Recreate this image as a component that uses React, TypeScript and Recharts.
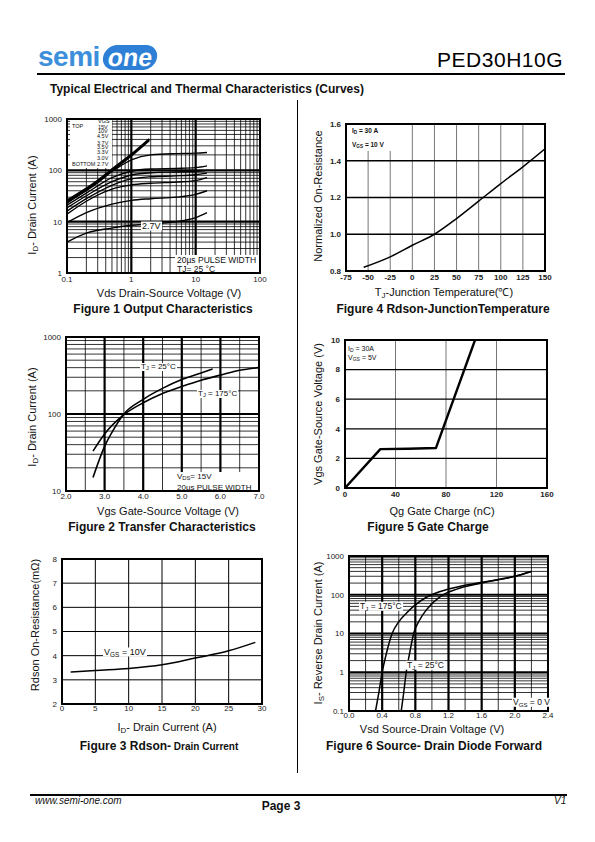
import React from 'react'
import { LineChart, Line, XAxis, YAxis, ReferenceLine } from 'recharts'

const FONT = '"Liberation Sans", Arial, Helvetica, sans-serif'

// Figure 1 - output characteristics, Vds (V) vs Id (A)
const outVds = [0.1, 0.2, 0.5, 1, 2, 5, 10, 15]
const outVdsTop = [0.1, 0.3, 0.5, 1, 1.9]
const outId15V = [26, 63, 105, 205, 410]
const outId10V = [24, 58, 98, 192, 385]
const outId45V = [23, 42, 95, 160, 200, 212, 216, 222]
const outId37V = [21, 36, 72, 96, 106, 109, 113, 122]
const outId35V = [18.5, 32, 60, 81, 90, 93, 95, 100]
const outId33V = [16, 28, 51, 68, 75, 78, 82, 88]
const outId30V = [14, 25, 43, 52, 56, 59, 63, 72]
const outId29V = [9.6, 15, 22, 26, 28, 30, 34, 40]
const outId27V = [4, 6, 7.5, 8.5, 9, 10, 12, 15]

// Figure 2 - transfer characteristics, Vgs (V) vs Id (A)
const trVgs25 = [2.7, 3.0, 3.25, 3.5, 4.0, 4.5, 5.0, 5.5, 5.8]
const trId25 = [15, 38, 65, 100, 155, 215, 280, 340, 385]
const trVgs175 = [2.7, 3.0, 3.5, 4.0, 4.5, 5.0, 5.5, 6.0, 6.5, 7.0]
const trId175 = [33, 55, 98, 140, 185, 228, 275, 320, 370, 400]

// Figure 3 - Rdson vs drain current
const rdsId = [1.3, 5, 10, 15, 20, 25, 29]
const rdsMohm = [3.32, 3.39, 3.47, 3.62, 3.9, 4.2, 4.55]

// Figure 4 - normalized Rdson vs junction temperature
const tjTemp = [-55, -25, 0, 25, 50, 75, 100, 125, 150]
const tjRds = [0.82, 0.877, 0.94, 1.0, 1.085, 1.18, 1.276, 1.367, 1.465]

// Figure 5 - gate charge
const gcQg = [0, 28, 50, 72, 103]
const gcVgs = [0, 2.63, 2.65, 2.7, 10]

// Figure 6 - body diode forward
const sdV175 = [0.32, 0.36, 0.4, 0.45, 0.52, 0.6, 0.7, 0.8, 0.95, 1.2, 1.6, 2.0, 2.2]
const sdI175 = [0.1, 0.3, 1, 3, 10, 20, 35, 55, 90, 140, 210, 300, 400]
const sdV25 = [0.63, 0.66, 0.69, 0.73, 0.78, 0.85, 0.95, 1.1, 1.3, 1.6, 2.0, 2.2]
const sdI25 = [0.1, 0.3, 1, 3, 10, 22, 45, 90, 140, 200, 300, 400]

type Pt = { x: number; y: number }
type Grid = { v: number; w: number; c?: string }

const zip = (xs: number[], ys: number[]): Pt[] => xs.map((x, i) => ({ x, y: ys[i] }))

const logMinor = (from: number, to: number) => {
  const out: number[] = []
  for (let d = from; d < to * 0.99; d *= 10)
    for (let k = 2; k <= 9; k++) out.push(+(d * k).toPrecision(3))
  return out
}
const g = (vals: number[], w: number, c = '#000'): Grid[] => vals.map(v => ({ v, w, c }))

function Plot(p: {
  left: number; top: number; w: number; h: number
  xDomain: [number, number]; yDomain: [number, number]
  xLog?: boolean; yLog?: boolean
  xTicks: number[]; yTicks: number[]
  xFmt?: (v: number) => string; yFmt?: (v: number) => string
  vGrid: Grid[]; hGrid: Grid[]
  lines: { pts: Pt[]; w: number; linear?: boolean }[]
  bold?: boolean
  xGap?: number
}) {
  const yw = 40, xh = 18, mt = 6, mr = 14, bw = 2
  const tick = { fontSize: 8, fill: '#222', fontFamily: FONT, fontWeight: p.bold ? 700 : 400 }
  return (
    <div style={{ position: 'absolute', left: p.left - yw, top: p.top - mt }}>
      <LineChart width={yw + p.w + mr} height={mt + p.h + xh} margin={{ top: mt, right: mr, left: 0, bottom: 0 }} style={{ overflow: 'visible' }}>
        <XAxis dataKey="x" type="number" scale={p.xLog ? 'log' : 'linear'} domain={p.xDomain} ticks={p.xTicks}
          allowDataOverflow interval={0} tickFormatter={p.xFmt} tick={tick} tickLine={false} axisLine={false}
          tickSize={p.xGap ?? 1} tickMargin={1} height={xh} />
        <YAxis dataKey="y" type="number" scale={p.yLog ? 'log' : 'linear'} domain={p.yDomain} ticks={p.yTicks}
          allowDataOverflow interval={0} tickFormatter={p.yFmt} tick={tick} tickLine={false} axisLine={false}
          tickSize={3} tickMargin={2} width={yw} />
        {p.vGrid.map(l => <ReferenceLine key={'v' + l.v} x={l.v} stroke={l.c} strokeWidth={l.w} />)}
        {p.hGrid.map(l => <ReferenceLine key={'h' + l.v} y={l.v} stroke={l.c} strokeWidth={l.w} />)}
        {p.lines.map((l, i) => (
          <Line key={i} data={l.pts} dataKey="y" type={l.linear ? 'linear' : 'monotone'} stroke="#000" strokeWidth={l.w}
            dot={false} isAnimationActive={false} strokeLinejoin="round" />
        ))}
      </LineChart>
      <div style={{ position: 'absolute', left: yw - bw / 2, top: mt - bw / 2, width: p.w + bw, height: p.h + bw,
        border: `${bw}px solid #000`, boxSizing: 'border-box' }} />
    </div>
  )
}

function Txt({ x, y, size = 8, bold, italic, center, bg, children, style }: any) {
  return (
    <div style={{ position: 'absolute', left: x, top: y, fontSize: size, lineHeight: 1, fontFamily: FONT,
      fontWeight: bold ? 700 : 400, fontStyle: italic ? 'italic' : 'normal', whiteSpace: 'nowrap', color: '#111',
      transform: `translate(${center ? '-50%' : '0'}, -50%)`, background: bg ? '#fff' : undefined,
      padding: bg ? '0 1px' : 0, ...style }}>
      {children}
    </div>
  )
}

function VTxt({ x, y, size = 11, children }: any) {
  return (
    <div style={{ position: 'absolute', left: x, top: y, fontSize: size, lineHeight: 1, fontFamily: FONT,
      whiteSpace: 'nowrap', color: '#111', transform: 'translate(-50%, -50%) rotate(-90deg)' }}>
      {children}
    </div>
  )
}

const Sub = ({ children }: any) => (
  <span style={{ fontSize: '0.72em', position: 'relative', top: '0.25em' }}>{children}</span>
)

const fx1 = (v: number) => v.toFixed(1)
const fstr = (v: number) => String(v)

export default function App() {
  return (
    <div style={{ position: 'absolute', left: 0, top: 0, width: 595, height: 842, background: '#fff', fontFamily: FONT }}>
      {/* header */}
      <div style={{ position: 'absolute', left: 38, top: 44, display: 'flex', alignItems: 'center' }}>
        <span style={{ fontWeight: 700, fontSize: 28, color: '#3d8fdc', lineHeight: '26px', letterSpacing: -0.5 }}>semi</span>
        <span style={{ marginLeft: 3, background: '#2d80d6', color: '#fff', borderRadius: 13, padding: '0 5px',
          fontWeight: 700, fontSize: 25, lineHeight: '25px', transform: 'skewX(-8deg)' }}>one</span>
      </div>
      <Txt x={563} y={59} size={21} style={{ transform: 'translate(-100%, -50%)', letterSpacing: 0.5, color: '#000' }}>PED30H10G</Txt>
      <div style={{ position: 'absolute', left: 37, top: 73, width: 528, height: 2, background: '#000' }} />
      <Txt x={50} y={89} size={12} bold>Typical Electrical and Thermal Characteristics (Curves)</Txt>
      <div style={{ position: 'absolute', left: 297, top: 100, width: 1, height: 673, background: '#000' }} />

      {/* Figure 1 */}
      <Plot left={67} top={119} w={193} h={154} xLog yLog xDomain={[0.1, 100]} yDomain={[1, 1000]}
        xTicks={[0.1, 1, 10, 100]} yTicks={[1, 10, 100, 1000]} xFmt={fstr} yFmt={fstr} xGap={2}
        vGrid={[...g(logMinor(0.1, 100), 0.8), ...g([1, 10], 2.2)]}
        hGrid={[...g(logMinor(1, 1000), 0.8), ...g([10, 100], 2.2)]}
        lines={[
          { pts: zip(outVdsTop, outId15V), w: 2 },
          { pts: zip(outVdsTop, outId10V), w: 2 },
          { pts: zip(outVds, outId45V), w: 1.4 },
          { pts: zip(outVds, outId37V), w: 1.4 },
          { pts: zip(outVds, outId35V), w: 1.4 },
          { pts: zip(outVds, outId33V), w: 1.4 },
          { pts: zip(outVds, outId30V), w: 1.4 },
          { pts: zip(outVds, outId29V), w: 1.4 },
          { pts: zip(outVds, outId27V), w: 1.4 },
        ]} />
      <div style={{ position: 'absolute', left: 70, top: 120, width: 42, height: 48, background: '#fff' }} />
      <Txt x={98} y={122} size={5.5}>VGS</Txt>
      <Txt x={72} y={127} size={5.5}>TOP</Txt>
      <Txt x={98} y={127.5} size={5.5}>15V</Txt>
      <Txt x={98} y={132} size={5.5}>10V</Txt>
      <Txt x={97} y={136.5} size={5.5}>4.5V</Txt>
      <Txt x={97} y={143.5} size={5.5}>3.7V</Txt>
      <Txt x={97} y={148} size={5.5}>3.5V</Txt>
      <Txt x={97} y={152.5} size={5.5}>3.3V</Txt>
      <Txt x={97} y={158.5} size={5.5}>3.0V</Txt>
      <Txt x={72} y={164.5} size={5.5}>BOTTOM</Txt>
      <Txt x={97} y={164.5} size={5.5}>2.7V</Txt>
      <Txt x={141} y={225.5} size={9} bg>2.7V</Txt>
      <div style={{ position: 'absolute', left: 175, top: 255, width: 84, height: 17, background: '#fff' }} />
      <Txt x={177} y={260} size={8.5}>20µs PULSE WIDTH</Txt>
      <Txt x={177} y={268.5} size={8.5}>TJ= 25 °C</Txt>
      <VTxt x={32} y={205}>I<Sub>D</Sub>- Drain Current (A)</VTxt>
      <Txt x={169} y={293} size={11} center>Vds Drain-Source Voltage (V)</Txt>
      <Txt x={163} y={309} size={12} bold center>Figure 1 Output Characteristics</Txt>

      {/* Figure 4 */}
      <Plot left={346} top={124} w={199} h={147} xDomain={[-75, 150]} yDomain={[0.8, 1.6]}
        xTicks={[-75, -50, -25, 0, 25, 50, 75, 100, 125, 150]} yTicks={[0.8, 1.0, 1.2, 1.4, 1.6]} yFmt={fx1} bold xGap={2}
        vGrid={g([-50, -25, 0, 25, 50, 75, 100, 125], 1, '#777')}
        hGrid={g([1.0, 1.2, 1.4], 1.3)}
        lines={[{ pts: zip(tjTemp, tjRds), w: 1.5 }]} />
      <div style={{ position: 'absolute', left: 347, top: 125, width: 50, height: 26, background: '#fff' }} />
      <Txt x={352} y={131} size={6.5} bold>I<Sub>D</Sub> = 30 A</Txt>
      <Txt x={352} y={145} size={6.5} bold>V<Sub>GS</Sub> = 10 V</Txt>
      <VTxt x={318} y={196}>Normalized On-Resistance</VTxt>
      <Txt x={444} y={292} size={11} center>T<Sub>J</Sub>-Junction Temperature(℃)</Txt>
      <Txt x={443} y={309} size={12} bold center>Figure 4 Rdson-JunctionTemperature</Txt>

      {/* Figure 2 */}
      <Plot left={66} top={337} w={193} h={154} yLog xDomain={[2, 7]} yDomain={[10, 1000]}
        xTicks={[2, 3, 4, 5, 6, 7]} yTicks={[10, 100, 1000]} xFmt={fx1} yFmt={fstr} xGap={1}
        vGrid={[...g([2.5, 3.5, 4.5, 5.5, 6.5], 0.8), ...g([3, 4, 5, 6], 2.2)]}
        hGrid={[...g(logMinor(10, 1000), 0.8), ...g([100], 2.2)]}
        lines={[
          { pts: zip(trVgs25, trId25), w: 1.6 },
          { pts: zip(trVgs175, trId175), w: 1.6 },
        ]} />
      <Txt x={140} y={367} size={8} bg>T<Sub>J</Sub> = 25°C</Txt>
      <Txt x={197} y={394} size={8} bg>T<Sub>J</Sub> = 175°C</Txt>
      <div style={{ position: 'absolute', left: 175, top: 472, width: 78, height: 18, background: '#fff' }} />
      <Txt x={177} y={477} size={8}>V<Sub>DS</Sub>= 15V</Txt>
      <Txt x={177} y={487.5} size={8}>20µs PULSE WIDTH</Txt>
      <VTxt x={32} y={417}>I<Sub>D</Sub>- Drain Current (A)</VTxt>
      <Txt x={168} y={511} size={11} center>Vgs Gate-Source Voltage (V)</Txt>
      <Txt x={162} y={527} size={12} bold center>Figure 2 Transfer Characteristics</Txt>

      {/* Figure 5 */}
      <Plot left={345} top={340} w={202} h={148} xDomain={[0, 160]} yDomain={[0, 10]}
        xTicks={[0, 40, 80, 120, 160]} yTicks={[0, 2, 4, 6, 8, 10]} bold xGap={2}
        vGrid={g([40, 80, 120], 1, '#777')}
        hGrid={g([2, 4, 6, 8], 1.3)}
        lines={[{ pts: zip(gcQg, gcVgs), w: 2.4, linear: true }]} />
      <Txt x={348} y={349} size={7}>I<Sub>D</Sub> = 30A</Txt>
      <Txt x={348} y={358} size={7}>V<Sub>GS</Sub> = 5V</Txt>
      <VTxt x={318} y={414}>Vgs Gate-Source Voltage (V)</VTxt>
      <Txt x={442} y={511} size={11} center>Qg Gate Charge (nC)</Txt>
      <Txt x={428} y={527} size={12} bold center>Figure 5 Gate Charge</Txt>

      {/* Figure 3 */}
      <Plot left={62} top={559} w={200} h={145} xDomain={[0, 30]} yDomain={[2, 8]}
        xTicks={[0, 5, 10, 15, 20, 25, 30]} yTicks={[2, 3, 4, 5, 6, 7, 8]} xGap={0}
        vGrid={g([5, 10, 15, 20, 25], 1)}
        hGrid={g([3, 4, 5, 6, 7], 1)}
        lines={[{ pts: zip(rdsId, rdsMohm), w: 1.5 }]} />
      <Txt x={103} y={652} size={9} bg>V<Sub>GS</Sub> = 10V</Txt>
      <VTxt x={35} y={625}>Rdson On-Resistance(mΩ)</VTxt>
      <Txt x={167} y={727} size={11} center>I<Sub>D</Sub>- Drain Current (A)</Txt>
      <Txt x={159} y={746} size={12} bold center>Figure 3 Rdson-<span style={{ fontSize: 10 }}> Drain Current</span></Txt>

      {/* Figure 6 */}
      <Plot left={349} top={556} w={199} h={155} yLog xDomain={[0, 2.4]} yDomain={[0.1, 1000]}
        xTicks={[0, 0.4, 0.8, 1.2, 1.6, 2.0, 2.4]} yTicks={[0.1, 1, 10, 100, 1000]} xFmt={fx1} yFmt={fstr} xGap={0}
        vGrid={[...g([0.2, 0.6, 1.0, 1.4, 1.8, 2.2], 0.8), ...g([0.4, 0.8, 1.2, 1.6, 2.0], 2.2)]}
        hGrid={[...g(logMinor(0.1, 1000), 0.8), ...g([1, 10, 100], 2.2)]}
        lines={[
          { pts: zip(sdV175, sdI175), w: 1.5 },
          { pts: zip(sdV25, sdI25), w: 1.5 },
        ]} />
      <Txt x={359} y={606} size={8.5} bg>T<Sub>J</Sub> = 175°C</Txt>
      <Txt x={406} y={665} size={8.5} bg>T<Sub>J</Sub> = 25°C</Txt>
      <Txt x={512} y={702} size={8.5} bg>V<Sub>GS</Sub> = 0 V</Txt>
      <VTxt x={318} y={633}>I<Sub>S</Sub>- Reverse Drain Current (A)</VTxt>
      <Txt x={432} y={729} size={11} center>Vsd Source-Drain Voltage (V)</Txt>
      <Txt x={434} y={746} size={12} bold center>Figure 6 Source- Drain Diode Forward</Txt>

      {/* footer */}
      <div style={{ position: 'absolute', left: 30, top: 794, width: 537, height: 2, background: '#000' }} />
      <Txt x={35} y={801} size={10} italic>www.semi-one.com</Txt>
      <Txt x={281} y={806} size={12} bold center>Page 3</Txt>
      <Txt x={554} y={801} size={10} italic>V1</Txt>
    </div>
  )
}
